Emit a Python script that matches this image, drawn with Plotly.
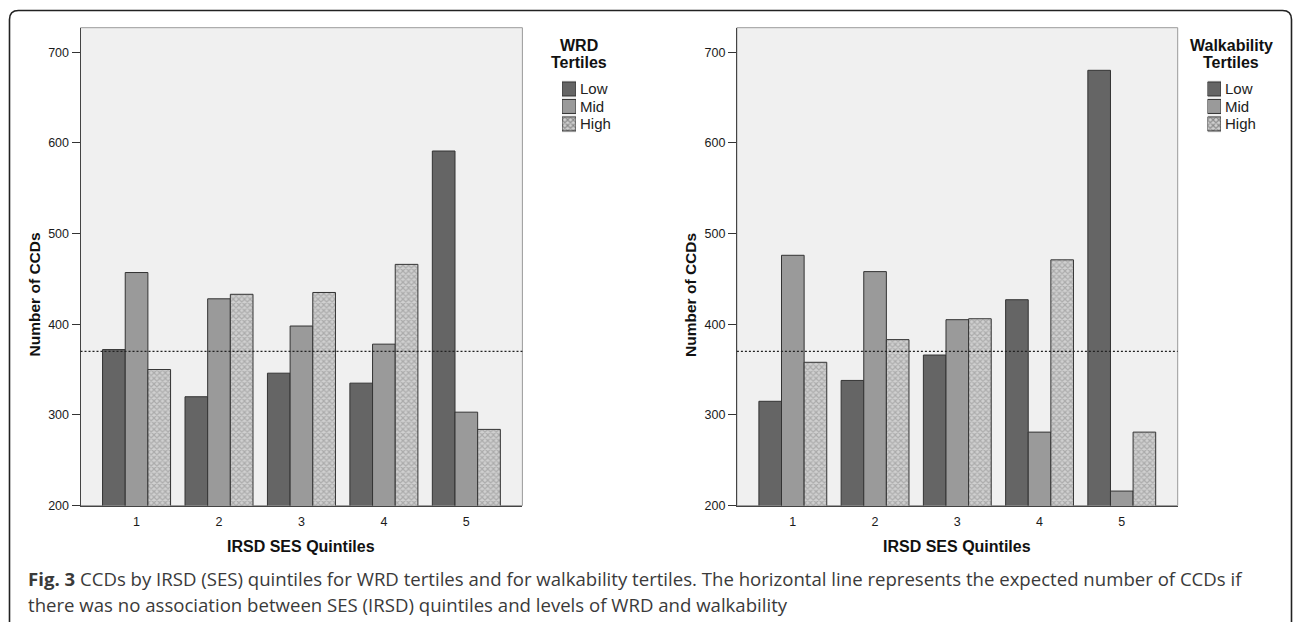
import plotly.graph_objects as go

W, H = 1293, 622
VS = 1.0111  # vertical compensation for the capture

quintiles = [1, 2, 3, 4, 5]
tick_labels = ["1", "2", "3", "4", "5"]
tertiles = ["Low", "Mid", "High"]

wrd_low = [372, 320, 346, 335, 591]
wrd_mid = [457, 428, 398, 378, 303]
wrd_high = [350, 433, 435, 466, 284]

walk_low = [315, 338, 366, 427, 680]
walk_mid = [476, 458, 405, 281, 216]
walk_high = [358, 383, 406, 471, 281]

expected = 370
y_ticks = [200, 300, 400, 500, 600, 700]

legend_titles = [["WRD", "Tertiles"], ["Walkability", "Tertiles"]]
x_title = "IRSD SES Quintiles"
y_title = "Number of CCDs"
caption1 = "<b>Fig. 3</b> CCDs by IRSD (SES) quintiles for WRD tertiles and for walkability tertiles. The horizontal line represents the expected number of CCDs if"
caption2 = "there was no association between SES (IRSD) quintiles and levels of WRD and walkability"


def px(x):
    return x / W


def py(y):
    return 1 - y * VS / H


colors = {"Low": "#656565", "Mid": "#9a9a9a", "High": "#d0d0d0"}
pattern_fg = "#858585"
outline = dict(color="#333333", width=1)


def marker_for(name):
    m = dict(color=colors[name], line=outline)
    if name == "High":
        m["pattern"] = dict(shape="x", fgcolor=pattern_fg, bgcolor=colors[name], size=4, solidity=0.5)
    return m


fig = go.Figure()

panels = [
    dict(vals=[wrd_low, wrd_mid, wrd_high], dom=[80.5, 522.4],
         sq=[562, 576], title_x=578.5, ytitle_x=34.5),
    dict(vals=[walk_low, walk_mid, walk_high], dom=[736.9, 1177.7],
         sq=[1207.5, 1221], title_x=1231, ytitle_x=691),
]

leg_centers = [89, 106.5, 124]
leg_step = 17.5

ydom = [py(505.7), py(27.7)]
axis_font = dict(family="Liberation Sans, Arial", size=12.5, color="#1a1a1a")
title_font_x = dict(family="Liberation Sans, Arial", size=16, color="#111111")
title_font_y = dict(family="Liberation Sans, Arial", size=15.5, color="#111111")

for i, p in enumerate(panels):
    sfx = "" if i == 0 else "2"
    lsfx = str(3 + 2 * i)  # legend swatch axes: x3/y3 and x5/y5
    for name, v in zip(tertiles, p["vals"]):
        fig.add_trace(go.Bar(x=quintiles, y=v, name=name, marker=marker_for(name),
                             xaxis="x" + sfx, yaxis="y" + sfx, showlegend=False,
                             hovertemplate=name + ": %{y}<extra></extra>"))
    # legend swatches drawn as a small horizontal bar chart on hidden axes
    fig.add_trace(go.Bar(
        y=tertiles, x=[1, 1, 1], orientation="h", width=0.8, showlegend=False,
        marker=dict(color=[colors[t] for t in tertiles], line=outline,
                    pattern=dict(shape=["", "", "x"], fgcolor=pattern_fg,
                                 bgcolor=[colors[t] for t in tertiles], size=4, solidity=0.5)),
        xaxis="x" + lsfx, yaxis="y" + lsfx, hoverinfo="skip"))
    fig.layout["xaxis" + lsfx] = dict(domain=[px(p["sq"][0]), px(p["sq"][1])], range=[0, 1],
                                      visible=False, fixedrange=True, anchor="y" + lsfx)
    fig.layout["yaxis" + lsfx] = dict(
        domain=[py(leg_centers[-1] + leg_step / 2), py(leg_centers[0] - leg_step / 2)],
        range=[2.5, -0.5], type="category", categoryorder="array", categoryarray=tertiles,
        visible=False, fixedrange=True, anchor="x" + lsfx)
    for t, cy in zip(tertiles, leg_centers):
        fig.add_annotation(x=px(p["sq"][1] + 1.5), y=py(cy), xref="paper", yref="paper", text=t,
                           showarrow=False, xanchor="left", yanchor="middle",
                           font=dict(family="Liberation Sans, Arial", size=15, color="#222222"))

    fig.layout["xaxis" + sfx] = dict(
        domain=[px(p["dom"][0]), px(p["dom"][1])], range=[0.32, 5.68],
        tickvals=quintiles, ticktext=tick_labels, ticks="", ticklabelstandoff=4, tickfont=axis_font,
        showgrid=False, zeroline=False, showline=True, linecolor="#444444", linewidth=1,
        anchor="y" + sfx, fixedrange=True)
    fig.layout["yaxis" + sfx] = dict(
        domain=ydom, range=[200, 727], tickvals=y_ticks, ticks="outside", ticklen=8,
        tickcolor="#333333", tickfont=axis_font, showgrid=False, zeroline=False,
        showline=True, linecolor="#444444", linewidth=1, anchor="x" + sfx, fixedrange=True)
    # plot-area frame
    fig.add_shape(type="rect", xref=f"x{sfx} domain", yref=f"y{sfx} domain", x0=0, x1=1, y0=0, y1=1,
                  line=dict(color="#9a9a9a", width=1), layer="below")
    # expected line
    fig.add_shape(type="line", xref=f"x{sfx} domain", yref="y" + sfx, x0=0, x1=1, y0=expected, y1=expected,
                  line=dict(color="#222222", width=1.2, dash="2px,2px"))
    # axis titles
    cx = (p["dom"][0] + p["dom"][1]) / 2
    fig.add_annotation(x=px(cx), y=py(546.5), xref="paper", yref="paper", text=f"<b>{x_title}</b>",
                       showarrow=False, xanchor="center", yanchor="middle", font=title_font_x)
    fig.add_annotation(x=px(p["ytitle_x"]), y=py(295), xref="paper", yref="paper", text=f"<b>{y_title}</b>",
                       showarrow=False, xanchor="center", yanchor="middle", textangle=-90,
                       font=title_font_y)
    # legend title (two lines)
    for line_txt, cy in zip(legend_titles[i], [45.5, 62.5]):
        fig.add_annotation(x=px(p["title_x"]), y=py(cy), xref="paper", yref="paper",
                           text=f"<b>{line_txt}</b>", showarrow=False, xanchor="center",
                           yanchor="middle",
                           font=dict(family="Liberation Sans, Arial", size=16, color="#111111"))

# caption
cap_font = dict(family="Open Sans, Noto Sans", size=18.6, color="#3a3a3a")
fig.add_annotation(x=px(26), y=py(579), xref="paper", yref="paper", text=caption1, showarrow=False,
                   xanchor="left", yanchor="middle", font=cap_font)
fig.add_annotation(x=px(26), y=py(605), xref="paper", yref="paper", text=caption2, showarrow=False,
                   xanchor="left", yanchor="middle", font=cap_font)

# rounded outer frame
x0, x1, yt, yb, r = 9.5, 1291.5, 10.5, 640, 9
path = (f"M {px(x0)} {py(yb)} L {px(x0)} {py(yt + r)} Q {px(x0)} {py(yt)} {px(x0 + r)} {py(yt)} "
        f"L {px(x1 - r)} {py(yt)} Q {px(x1)} {py(yt)} {px(x1)} {py(yt + r)} L {px(x1)} {py(yb)}")
fig.add_shape(type="path", xref="paper", yref="paper", path=path, line=dict(color="#222222", width=1.6))

fig.update_layout(
    width=W, height=H, margin=dict(l=0, r=0, t=0, b=0),
    paper_bgcolor="white", plot_bgcolor="#f0f0f0",
    barmode="group", bargap=0.175, bargroupgap=0,
    showlegend=False,
)

fig.write_html("out.html", config={"displayModeBar": False},
               post_script="document.body.style.margin='0px';document.documentElement.style.overflow='hidden';")
